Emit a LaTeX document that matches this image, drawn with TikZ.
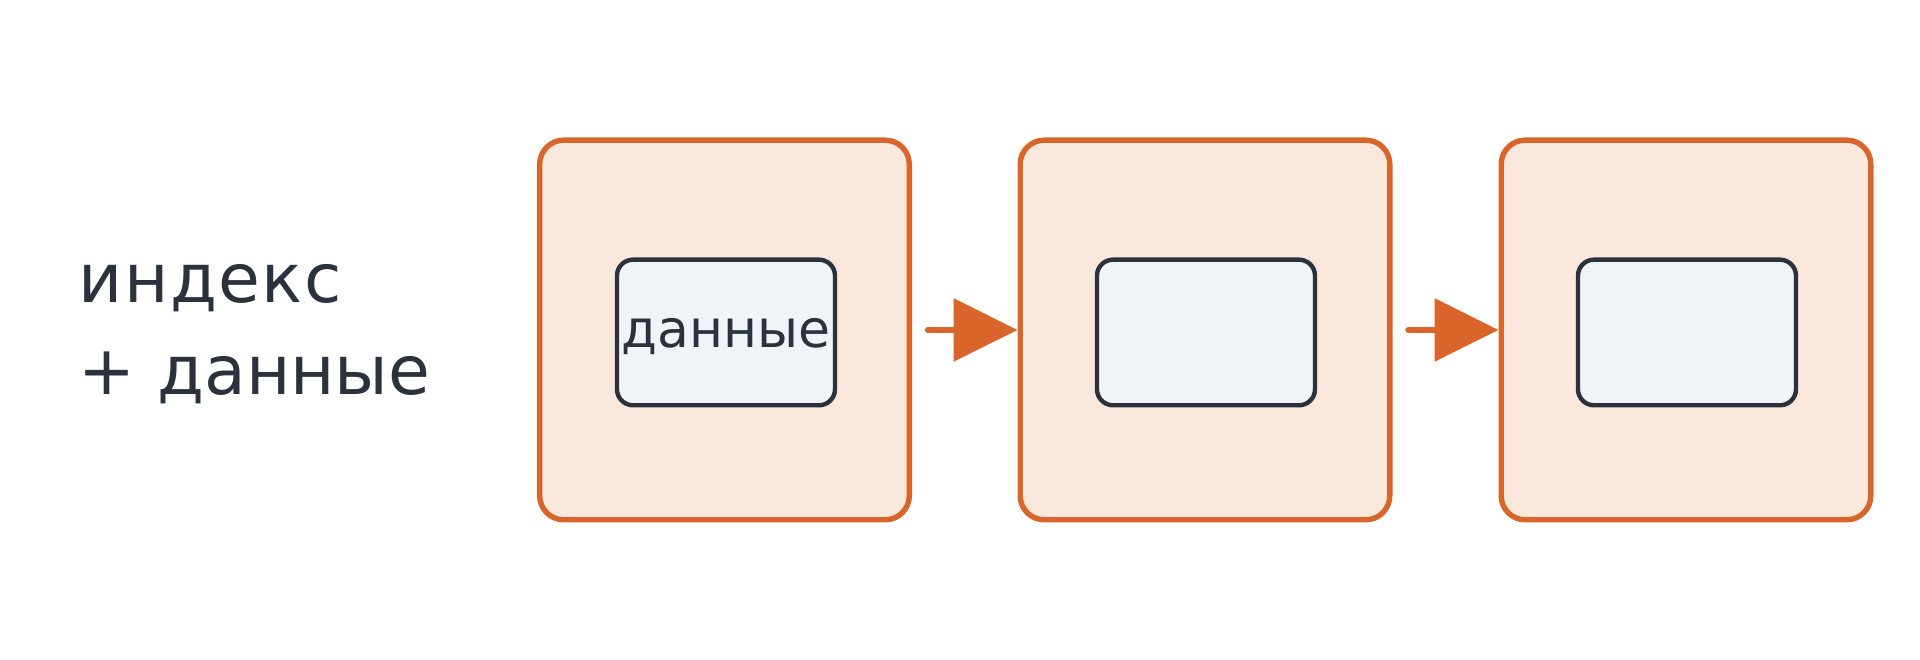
\documentclass[tikz,border=0pt]{standalone}
\usepackage{fontspec}
\setmainfont{DejaVu Sans}
\usetikzlibrary{arrows.meta}
\definecolor{blockedge}{HTML}{D9652B}
\definecolor{blockfill}{HTML}{FBE8DC}
\definecolor{slotfill}{HTML}{F0F4F7}
\definecolor{slotedge}{HTML}{2B323D}
\tikzset{
  blockbox/.style={rectangle, draw=blockedge, fill=blockfill, line width=1.35pt, rounded corners=6pt, minimum width=92.4pt, minimum height=94.9pt},
  slotbox/.style={rectangle, draw=slotedge, fill=slotfill, line width=1.1pt, rounded corners=4pt, minimum width=54.5pt, minimum height=36.4pt, inner sep=0pt, text height=9.6pt, text depth=2pt, text=slotedge, font=\fontsize{13}{16}\selectfont},
  link/.style={draw=blockedge, line width=1.6pt, line cap=round, shorten <=4pt, -{Triangle[length=16pt,width=15.5pt]}}
}
\newcommand{\lnblock}[2] {\node at (#1) (#2) [blockbox] {};}
\newcommand{\lnslot}[3] {\node at (#1) (#2) [slotbox] {#3};}
\newcommand{\lnlink}[2] {\draw [link] (#1) -- (#2);}

\begin{document}
\begin{tikzpicture}[x=0.25pt, y=0.25pt]

\useasboundingbox (0,0) rectangle (1920,660);

\node at (78,326) (caption) [anchor=west, align=left, inner sep=0pt, text=slotedge, font=\fontsize{17}{23}\selectfont] {{\addfontfeatures{LetterSpace=2}индекс}\\+ данные};

\lnblock {724.5,330}{b1};
\lnblock {1205,330}{b2};
\lnblock {1686,330}{b3};

\lnslot {726,327.5}{s1}{данные};
\lnslot {1206,327.5}{s2}{};
\lnslot {1687,327.5}{s3}{};

\lnlink{b1.east}{b2.west};
\lnlink{b2.east}{b3.west};

\end{tikzpicture}
\end{document}
